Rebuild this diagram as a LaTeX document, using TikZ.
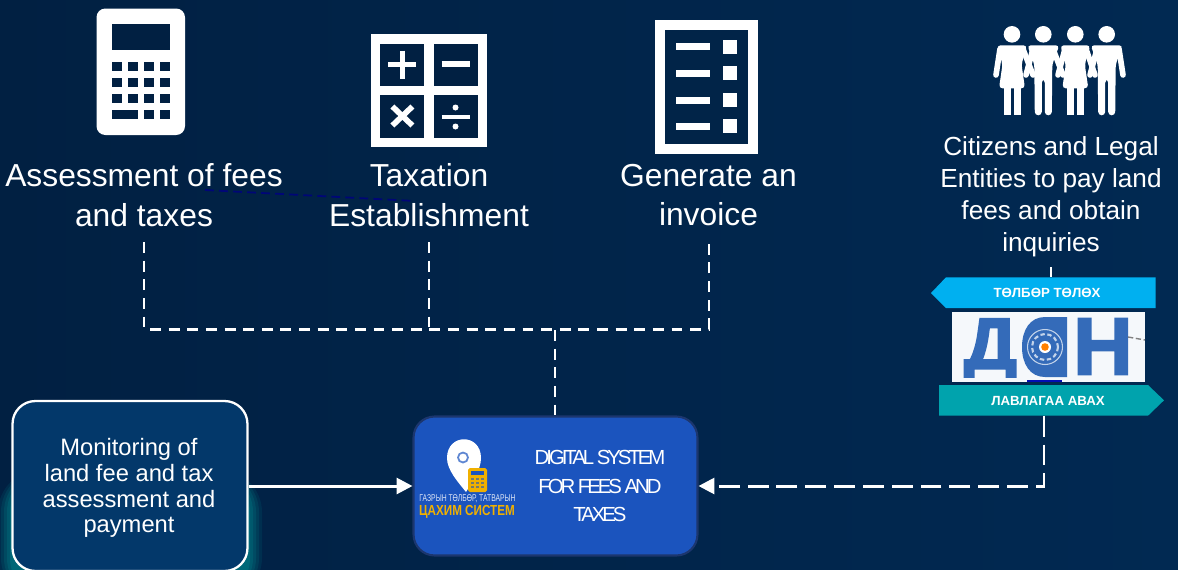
\documentclass[tikz,border=0pt]{standalone}
\usepackage{fontspec}
\setmainfont{Liberation Sans}
\newfontfamily\tightfont[LetterSpace=-15]{Liberation Sans}
\newfontfamily\danfont[BoldFeatures={FakeBold=2.5}]{Liberation Sans}
\usetikzlibrary{arrows.meta}
\definecolor{navyleft}{RGB}{1,32,66}
\definecolor{navyright}{RGB}{1,41,82}
\definecolor{monitorblue}{RGB}{3,56,106}
\definecolor{systemblue}{RGB}{27,84,190}
\definecolor{systemedge}{RGB}{28,54,110}
\definecolor{paytag}{RGB}{0,176,240}
\definecolor{reftag}{RGB}{0,163,173}
\definecolor{logoblue}{RGB}{52,107,185}
\definecolor{gold}{RGB}{240,176,0}
\tikzset{
  biglabel/.style={white, align=center, font=\fontsize{18.1}{22.7}\selectfont},
  midlabel/.style={white, align=center, font=\fontsize{14.9}{18.2}\selectfont},
  smalllabel/.style={white, align=center, font=\fontsize{13.5}{14.7}\selectfont},
  taglabel/.style={white, font=\bfseries\fontsize{7.55}{9}\selectfont},
  dashlink/.style={white, line width=1.7pt, dash pattern=on 6.2pt off 4.4pt},
  longdash/.style={white, line width=1.7pt, dash pattern=on 11.9pt off 4.5pt},
  solidlink/.style={white, line width=1.7pt},
  arrowhead/.style={-{Triangle[length=9pt,width=9pt]}},
  femalefig/.pic={
    \fill (0,0) circle[radius=8.3];
    \fill[rounded corners=2] (-15,11) -- (15,11) -- (9.5,30) -- (13,54) -- (-13,54) -- (-9.5,30) -- cycle;
    \fill (-8.5,50) rectangle (-1.5,81);
    \fill (1.5,50) rectangle (8.5,81);
  },
  malefig/.pic={
    \fill (0,0) circle[radius=8.3];
    \fill[rounded corners=2] (-16,11) -- (16,11) -- (9,30) -- (8.5,81) -- (1.5,81) -- (1.5,45) -- (-1.5,45) -- (-1.5,81) -- (-8.5,81) -- (-9,30) -- cycle;
  }
}

\begin{document}
\begin{tikzpicture}[x=0.02cm, y=-0.02cm]
    \clip (0,0) rectangle (1178,569);
    \shade[left color=navyleft, right color=navyright] (0,0) rectangle (1178,569);

    % calculator
    \fill[white, rounded corners=5] (96.5,8.5) rectangle (185,135);
    \fill[navyleft] (112,24) rectangle (170,50);
    \foreach \row in {62,78,94} {
        \foreach \col in {112,128,144,160} {
            \fill[navyleft] (\col,\row) rectangle ++(10,9);
        }
    }
    \fill[navyleft] (112,110) rectangle (138,119);
    \fill[navyleft] (144,110) rectangle ++(10,9);
    \fill[navyleft] (160,110) rectangle ++(10,9);

    % math signs
    \fill[white] (371,34) rectangle (487,147);
    \fill[navyleft] (380,43.5) rectangle (424,86);
    \fill[navyleft] (433.5,43.5) rectangle (477.5,86);
    \fill[navyleft] (380,95) rectangle (424,137.5);
    \fill[navyleft] (433.5,95) rectangle (477.5,137.5);
    \draw[white, line width=3pt] (388.4,64.5) -- (416.4,64.5);
    \draw[white, line width=3pt] (402.4,50.5) -- (402.4,78.5);
    \draw[white, line width=3pt] (441.5,64) -- (469.5,64);
    \draw[white, line width=3.2pt] (392.4,106.5) -- (412.4,125.5);
    \draw[white, line width=3.2pt] (412.4,106.5) -- (392.4,125.5);
    \draw[white, line width=2.6pt] (441.5,117) -- (469.5,117);
    \fill[white] (455.5,107.5) circle[radius=3];
    \fill[white] (455.5,126.5) circle[radius=3];

    % invoice
    \fill[white] (654.7,20) rectangle (758,153.7);
    \fill[navyleft!60!navyright] (664.7,30) rectangle (748,143.7);
    \foreach \row in {46.7,73.3,100,126.3} {
        \fill[white] (676,\row-3.5) rectangle (710,\row+3.5);
        \fill[white] (723,\row-7) rectangle (737,\row+7);
    }

    % people
    \begin{scope}[white]
        \draw[line width=3.2pt, line cap=round] (1000,49) -- (996,75);
        \draw[line width=3.2pt, line cap=round] (1023,49) -- (1033,75);
        \draw[line width=3.2pt, line cap=round] (1033,49) -- (1026,75);
        \draw[line width=3.2pt, line cap=round] (1053,49) -- (1063,75);
        \draw[line width=3.2pt, line cap=round] (1065,49) -- (1058,75);
        \draw[line width=3.2pt, line cap=round] (1086,49) -- (1095,75);
        \draw[line width=3.2pt, line cap=round] (1097,49) -- (1090,75);
        \draw[line width=3.2pt, line cap=round] (1119,49) -- (1123,75);
        \pic[white] at (1012,34.3) {femalefig};
        \pic[white] at (1043.3,34.3) {malefig};
        \pic[white] at (1075.3,34.3) {femalefig};
        \pic[white] at (1106.7,34.3) {malefig};
    \end{scope}

    % Label values
    \node[biglabel] (assessfee) at (144,195) {Assessment of fees\\and taxes};
    \node[biglabel] (taxation) at (429,195) {Taxation\\Establishment};
    \node[biglabel] (invoice) at (708.5,195) {Generate an\\invoice};
    \node[midlabel] (citizens) at (1051,197) {Citizens and Legal\\Entities to pay land\\fees and obtain\\inquiries};

    % stray line between the labels
    \draw[navyleft!30!blue!60!black, line width=1pt, dash pattern=on 5pt off 3pt] (205,190) -- (415,201);

    % glow
    \foreach \grow/\op in {14/.10,11/.12,8/.14,5/.16,2/.20} {
        \fill[teal!70!cyan, opacity=\op, rounded corners=24] (12-\grow,470) rectangle (248+\grow,600);
    }

    % boxes
    \node[draw=white, line width=1.3pt, fill=monitorblue, rounded corners=13pt, minimum width=4.7cm, minimum height=3.4cm] (monitor) at (130,486) {};
    \node[smalllabel] (monitortext) at (129,488) {Monitoring of\\land fee and tax\\assessment and\\payment};
    \node[draw=systemedge, line width=1.2pt, fill=systemblue, rounded corners=12pt, minimum width=5.68cm, minimum height=2.78cm] (system) at (555.5,486) {};
    \node[white, align=center, font=\tightfont\fontsize{11.6}{16.2}\selectfont] (systemtext) at (600,486) {DIGITAL SYSTEM\\FOR FEES AND\\TAXES};

    % land tax logo
    \fill[white] (447,458) .. controls (447,433) and (481,433) .. (481,458) .. controls (481,470) and (472,482) .. (466,492) .. controls (458,482) and (447,470) .. (447,458) -- cycle;
    \draw[systemblue!70!white, line width=1pt] (463,457.5) circle[radius=5];
    \fill[gold, rounded corners=1] (468,468) rectangle (487,492);
    \fill[systemblue] (471,471) rectangle (484,475);
    \foreach \row in {478,482,486} {
        \foreach \col in {471,476,481} {
            \fill[systemblue!60!gold] (\col,\row) rectangle ++(3,2.4);
        }
    }
    \node[white!85!systemblue, inner sep=0pt, xscale=.69, font=\fontsize{5.6}{6}\selectfont] (logotop) at (467.5,499) {ГАЗРЫН ТӨЛБӨР, ТАТВАРЫН};
    \node[gold, inner sep=0pt, xscale=.8, font=\bfseries\fontsize{8.3}{9}\selectfont] (logobottom) at (467,512) {ЦАХИМ СИСТЕМ};

    % tags
    \fill[paytag] (931,293) -- (946,277.3) -- (1155.7,277.3) -- (1155.7,308) -- (946,308) -- cycle;
    \node[taglabel] (paylabel) at (1047,293) {ТӨЛБӨР ТӨЛӨХ};
    \fill[reftag] (939,385) -- (1148,385) -- (1164,400.3) -- (1148,415.7) -- (939,415.7) -- cycle;
    \node[taglabel] (reflabel) at (1048,401) {ЛАВЛАГАА АВАХ};

    % dan logo
    \fill[white!95!logoblue] (952,312) rectangle (1145,381.7);
    \fill[navyleft!40!blue] (1027,380) rectangle (1062,381.7);
    \begin{scope}
        \clip (952,317) rectangle (1145,377.5);
        \node[logoblue, inner sep=0pt, xscale=.92, yscale=.9, font=\danfont\bfseries\fontsize{46}{46}\selectfont] (danD) at (990.5,351) {Д};
    \end{scope}
    \node[logoblue, inner sep=0pt, xscale=1.02, font=\danfont\bfseries\fontsize{46}{46}\selectfont] (danN) at (1103,346.5) {Н};
    \fill[logoblue] (1067,317) -- (1045,317) .. controls (1030,317) and (1022,330) .. (1022,347) .. controls (1022,364) and (1030,377) .. (1045,377) -- (1067,377) -- cycle;
    \draw[white!70!logoblue, line width=.6pt] (1045,347) circle[radius=17.5];
    \draw[white!70!logoblue, line width=1.2pt, dash pattern=on 2.5pt off 1.5pt] (1045,347) circle[radius=13];
    \fill[white] (1045,347) circle[radius=6];
    \fill[orange] (1045,347) circle[radius=3.8];
    \draw[gray, line width=.8pt, dash pattern=on 3pt off 1.5pt] (1128,337) -- (1145,340);

    % connectors
    \coordinate (assessend) at (144,242);
    \coordinate (taxend) at (429,242);
    \coordinate (invoiceend) at (709,242);
    \coordinate (busjoin) at (555,330);
    \coordinate (buscorner) at (709,329);
    \coordinate (citizensend) at (1051,267);
    \coordinate (paytop) at (1051,277.3);
    \coordinate (refbottom) at (1044,415.7);
    \draw[dashlink] (assessend) |- (buscorner) -- (invoiceend);
    \draw[dashlink] (taxend) -- (taxend |- buscorner);
    \draw[dashlink] (busjoin) -- (busjoin |- system.north);
    \draw[solidlink] (citizensend) -- (paytop);
    \draw[solidlink, arrowhead] (monitor.east) -- (system.west);
    \draw[longdash, arrowhead] (refbottom) |- (system.east);
\end{tikzpicture}
\end{document}
